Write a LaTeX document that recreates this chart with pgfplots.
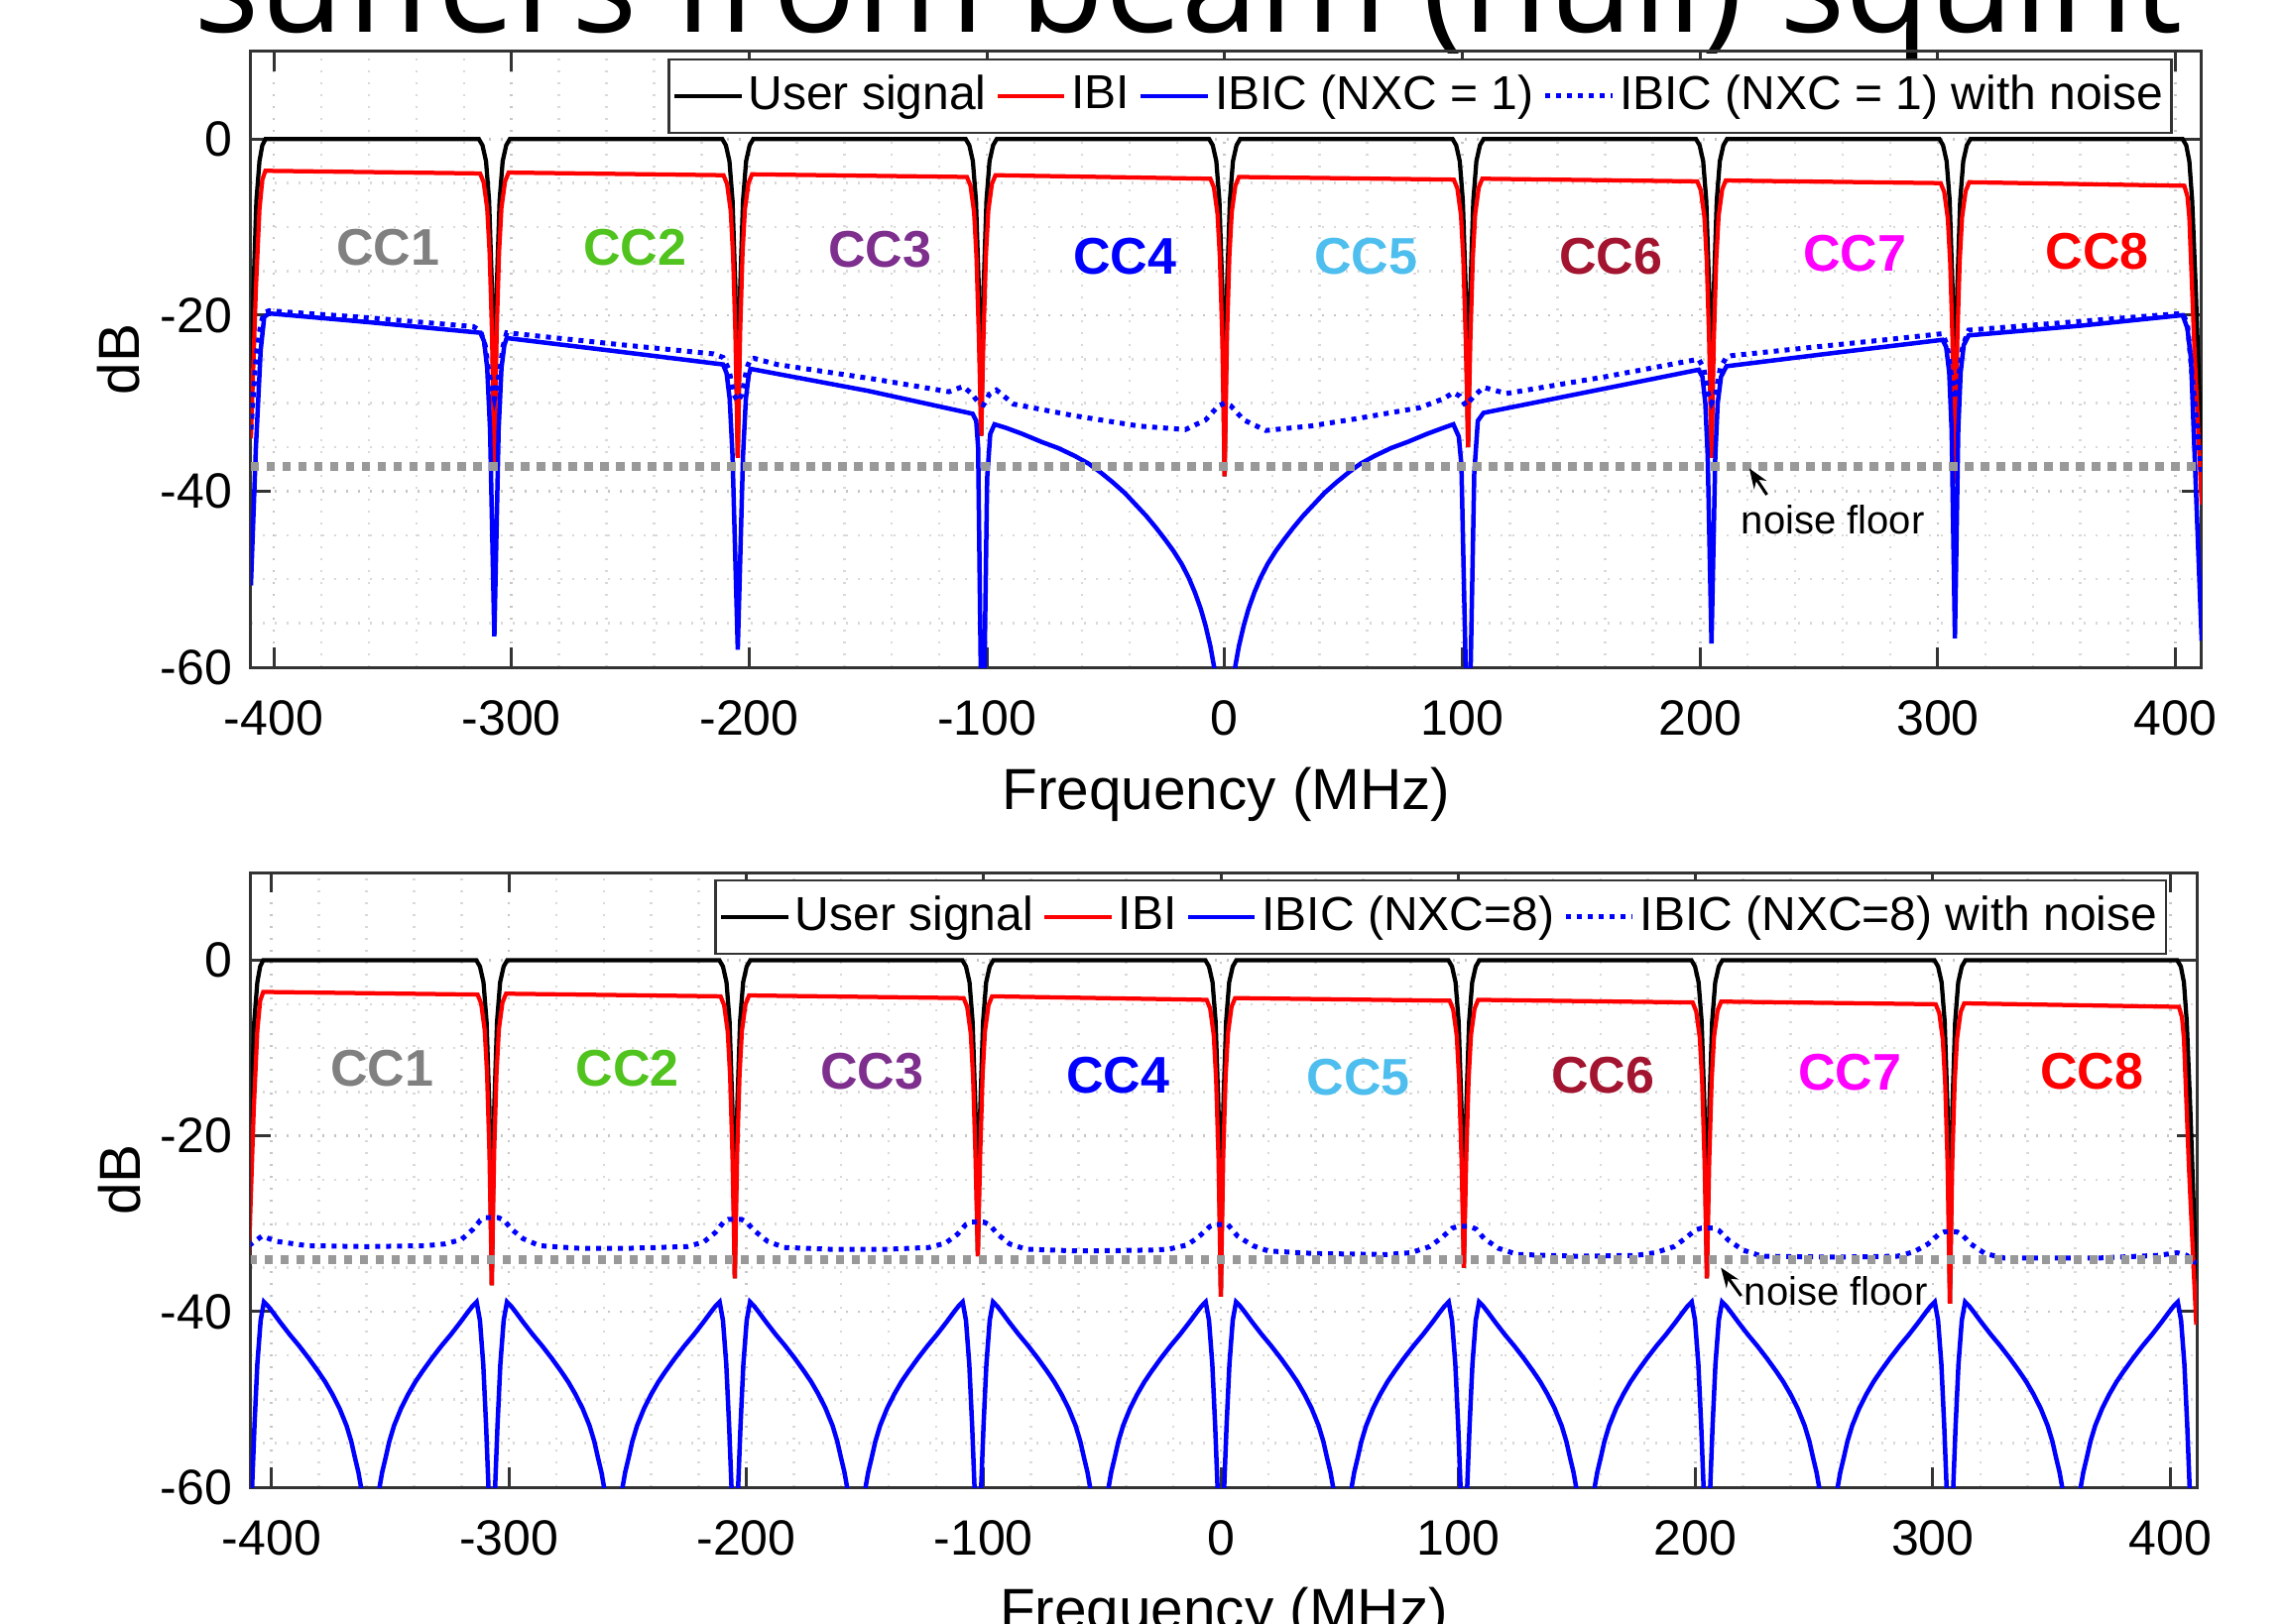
\documentclass[border=0pt]{standalone}
\usepackage{pgfplots}
\pgfplotsset{compat=1.18}
\usepackage{pgfplotstable}
\usepackage{fontspec}
\setmainfont{Liberation Sans}
\newfontfamily\titlefont{Open Sans}
\usetikzlibrary{arrows.meta}

\definecolor{ccgray}{RGB}{128,128,128}
\definecolor{ccgreen}{RGB}{80,195,30}
\definecolor{ccpurple}{RGB}{126,47,142}
\definecolor{ccblue}{RGB}{0,0,255}
\definecolor{cccyan}{RGB}{77,190,238}
\definecolor{ccwine}{RGB}{162,20,47}
\definecolor{ccmag}{RGB}{255,0,255}
\definecolor{ccred}{RGB}{255,0,0}

% user signal, same in both panels
\pgfplotstableread{
f v
-409.6 -30.6
-408.5 -17
-407.3 -7
-406 -2.5
-404.8 -0.7
-403.5 0
-313.7 0
-312.2 -0.7
-310.7 -2.5
-309.4 -7
-308.2 -17
-307.2 -37
-306.2 -17
-305.0 -7
-303.7 -2.5
-302.2 -0.7
-300.7 0
-211.3 0
-209.8 -0.7
-208.3 -2.5
-207.0 -7
-205.8 -17
-204.8 -36.2
-203.8 -17
-202.6 -7
-201.3 -2.5
-199.8 -0.7
-198.3 0
-108.9 0
-107.4 -0.7
-105.9 -2.5
-104.6 -7
-103.4 -17
-102.4 -33.7
-101.4 -17
-100.2 -7
-98.9 -2.5
-97.4 -0.7
-95.9 0
-6.5 0
-5 -0.7
-3.5 -2.5
-2.2 -7
-1 -17
0 -38.3
1 -17
2.2 -7
3.5 -2.5
5 -0.7
6.5 0
95.9 0
97.4 -0.7
98.9 -2.5
100.2 -7
101.4 -17
102.4 -35
103.4 -17
104.6 -7
105.9 -2.5
107.4 -0.7
108.9 0
198.3 0
199.8 -0.7
201.3 -2.5
202.6 -7
203.8 -17
204.8 -36.2
205.8 -17
207.0 -7
208.3 -2.5
209.8 -0.7
211.3 0
300.7 0
302.2 -0.7
303.7 -2.5
305.0 -7
306.2 -17
307.2 -39.1
308.2 -17
309.4 -7
310.7 -2.5
312.2 -0.7
313.7 0
403 0
404.5 -0.7
405.8 -2.5
407 -7
408.5 -17
411 -36.5
}\usersig

% IBI, same in both panels
\pgfplotstableread{
f v
-409.6 -34
-407.5 -17
-406 -8
-404.8 -4.6
-403.5 -3.6
-313.2 -3.9
-311.7 -4.9
-310.2 -7.9
-309.2 -12.9
-308.2 -21.9
-307.2 -37
-306.2 -21.8
-305.2 -12.8
-304.2 -7.8
-302.7 -4.8
-301.2 -3.8
-210.8 -4.1
-209.3 -5.1
-207.8 -8.1
-206.8 -13.1
-205.8 -22.1
-204.8 -36.2
-203.8 -22.0
-202.8 -13.0
-201.8 -8.0
-200.3 -5.0
-198.8 -4.0
-108.4 -4.3
-106.9 -5.3
-105.4 -8.3
-104.4 -13.3
-103.4 -22.3
-102.4 -33.7
-101.4 -22.1
-100.4 -13.1
-99.4 -8.1
-97.9 -5.1
-96.4 -4.1
-6 -4.5
-4.5 -5.5
-3 -8.5
-2 -13.5
-1 -22.5
0 -38.3
1 -22.3
2 -13.3
3 -8.3
4.5 -5.3
6 -4.3
96.4 -4.6
97.9 -5.6
99.4 -8.6
100.4 -13.6
101.4 -22.6
102.4 -35
103.4 -22.5
104.4 -13.5
105.4 -8.5
106.9 -5.5
108.4 -4.5
198.8 -4.8
200.3 -5.8
201.8 -8.8
202.8 -13.8
203.8 -22.8
204.8 -36.2
205.8 -22.7
206.8 -13.7
207.8 -8.7
209.3 -5.7
210.8 -4.7
301.2 -5.0
302.7 -6.0
304.2 -9.0
305.2 -14.0
306.2 -23.0
307.2 -39.1
308.2 -22.9
309.2 -13.9
310.2 -8.9
311.7 -5.9
313.2 -4.9
403.7 -5.3
405 -6.5
405.8 -8.9
407.9 -23.5
411 -41.5
}\ibi

% IBIC, NXC = 1
\pgfplotstableread{
f v
-409.6 -50.7
-407.5 -35
-405.5 -24
-404 -20.2
-402 -19.8
-360 -20.8
-313 -22.0
-311.5 -23
-310.2 -26
-309 -33
-307.2 -56.5
-305.4 -33
-304.2 -26
-303 -23.4
-302 -22.6
-256 -24.1
-211 -25.6
-209.5 -26.6
-208.2 -29.5
-207 -36
-204.8 -58
-202.6 -36
-201.4 -29.5
-200.2 -26.8
-199.4 -26.1
-150 -28.6
-106 -31.2
-104.5 -32
-103.7 -35
-102.6 -60
-102.4 -62
-101 -60
-99.9 -38.5
-98.6 -33.5
-96.8 -32.4
-92 -32.8
-85 -33.5
-77 -34.4
-70 -35.1
-63 -36.0
-57 -36.9
-52 -37.9
-47 -39.0
-42 -40.2
-37.5 -41.5
-33 -42.8
-29 -44.1
-25 -45.5
-21.5 -46.8
-18 -48.3
-15 -49.9
-12.5 -51.5
-10 -53.4
-8 -55.3
-6 -57.6
-4.4 -60
0 -72
4.4 -60
6 -57.6
8 -55.3
10 -53.4
12.5 -51.5
15 -49.9
18 -48.3
21.5 -46.8
25 -45.5
29 -44.1
33 -42.8
37.5 -41.5
42 -40.2
47 -39.0
52 -37.9
57 -36.9
63 -36.0
70 -35.1
77 -34.4
85 -33.5
92 -32.8
96.2 -32.4
98.5 -33.8
99.6 -37
101.4 -60
102.4 -63
103.5 -60
105 -38
106.5 -32
108.9 -31.1
155 -28.6
199.4 -26.2
201 -27
202.2 -30
203.2 -36
204.8 -57.3
206.4 -36
207.4 -30
208.8 -27
211.1 -25.8
256 -24.3
302 -22.8
303.5 -23.6
304.8 -26.5
305.8 -33
307.2 -56.7
308.6 -33
309.6 -26.5
310.9 -23.4
313 -22.3
360 -21.2
403 -20.0
405 -21.5
406.5 -25
411 -57
}\ibicone

% IBIC, NXC = 1, with noise
\pgfplotstableread{
f v
-409.6 -33
-407.5 -25
-405.5 -21
-404 -19.7
-402 -19.5
-360 -20.3
-316 -21.3
-313 -21.8
-311 -23.5
-309.5 -26.5
-307.2 -29.5
-305 -26.5
-303.5 -23.5
-302 -22.0
-256 -23.3
-215 -24.4
-211 -24.8
-208.5 -26.2
-206.5 -29
-204.8 -29.8
-203 -29
-201 -26
-199.5 -25.0
-198 -24.9
-188.3 -25.6
-146.5 -27.3
-116 -28.7
-110 -28.1
-106.5 -28.9
-103 -30.1
-101.5 -30.2
-99 -29
-96 -28.5
-88.8 -30.1
-63.8 -31.4
-36 -32.6
-16.5 -33.0
-8 -31.9
-2.6 -30.3
0 -30.0
2.6 -30.3
8 -31.9
17.3 -33.1
36 -32.6
54.6 -31.8
82.2 -30.5
92 -29.5
96.2 -28.8
99 -29.2
101.5 -30.3
104.5 -29.3
108.9 -28.2
118.5 -28.9
160 -27.0
199.4 -25.0
201.5 -26
203.5 -29
204.8 -30.0
206.5 -29
208.5 -26
211 -24.8
213.3 -24.6
256 -23.4
277.8 -22.8
302 -22.1
304 -23.5
305.5 -26.5
307.2 -29.5
309 -26.5
310.5 -23.5
313 -21.7
360 -20.7
403 -19.8
405 -21
407 -27
411 -38
}\ibiconenoise

% IBIC, NXC = 8, with noise
\pgfplotstableread{
f v
-409.6 -32.5
-404 -31.4
-398 -32.0
-385 -32.5
-360 -32.6
-335 -32.5
-327 -32.3
-320 -31.8
-315 -30.6
-312 -29.6
-310 -29.3
-304.5 -29.3
-302 -29.6
-299 -30.6
-294 -31.7
-287 -32.5
-270 -32.8
-250 -32.8
-225 -32.6
-218 -32.1
-213 -31.0
-209.5 -29.8
-207.5 -29.5
-202 -29.5
-200 -29.8
-196.5 -30.8
-191 -32.0
-184 -32.7
-165 -32.9
-140 -32.9
-123 -32.7
-116 -32.2
-111 -31.2
-107.5 -30.1
-105 -29.8
-100 -29.8
-97.5 -30.1
-94 -31.2
-89 -32.3
-82 -32.9
-60 -33.1
-30 -33.0
-22 -32.9
-14 -32.4
-9 -31.4
-4.6 -30.3
-2.5 -30.1
3 -30.1
7 -31.4
13.5 -32.5
20 -33.1
40 -33.4
70 -33.5
80 -33.3
88 -32.6
93 -31.6
97.5 -30.5
100 -30.3
105 -30.3
107.5 -30.6
111 -31.7
117 -32.8
125 -33.5
150 -33.7
175 -33.6
183 -33.3
191 -32.6
196 -31.6
200 -30.7
202.5 -30.5
207.5 -30.5
210 -30.8
214 -31.9
220 -33.0
228 -33.7
260 -33.8
285 -33.7
292 -33.2
298 -32.3
302.5 -31.2
305 -30.9
310 -30.9
312.5 -31.3
316 -32.3
322 -33.4
330 -33.9
370 -33.9
395 -33.6
403 -33.3
407 -33.6
411 -34.5
}\ibiceightnoise

\pgfplotsset{
  spect/.style={
    scale only axis,
    ymin=-60, ymax=10,
    xtick={-400,-300,-200,-100,0,100,200,300,400},
    xticklabels={-400,-300,-200,-100,0,100,200,300,400},
    ytick={-60,-40,-20,0},
    yticklabels={-60,-40,-20,0},
    minor x tick num=4, minor y tick num=3,
    grid=both,
    major grid style={gray!45, dotted, line width=0.55pt},
    minor grid style={gray!30, dotted, line width=0.5pt},
    tick align=inside, major tick length=4pt, minor tick length=0pt,
    axis line style={black!80, line width=0.6pt},
    tick style={black!80, line width=0.6pt},
    ticklabel style={font=\fontsize{10}{12}\selectfont, inner sep=0pt},
    xticklabel style={yshift=-6.5pt},
    yticklabel style={xshift=-3.6pt},
    label style={font=\fontsize{11.7}{14}\selectfont},
    xlabel={Frequency (MHz)}, ylabel={dB},
    ylabel style={at={(axis description cs:-0.0676,0.5)}, anchor=center},
    legend columns=4, legend cell align=left,
    legend image code/.code={\draw[##1] (0pt,0pt) -- (13.5pt,0pt);},
    legend style={at={(1,1)}, anchor=north east,
      font=\fontsize{9.6}{11}\selectfont, draw=black!80, line width=0.5pt,
      inner xsep=0.7pt, inner ysep=1pt,
      nodes={inner xsep=1pt, inner ysep=2.2pt},
      /tikz/every even column/.append style={column sep=0.8pt}},
  },
  usr/.style={black, line width=0.85pt},
  ibis/.style={red, line width=0.85pt},
  ibic/.style={blue, line width=0.9pt},
  ibicn/.style={blue, line width=1pt, dash pattern=on 1pt off 1.2pt},
  nfloor/.style={black!40, line width=1.7pt, dash pattern=on 1.7pt off 1.5pt},
}
\tikzset{cclab/.style={font=\bfseries\fontsize{10.4}{12}\selectfont}}

\begin{document}
\begin{tikzpicture}
\useasboundingbox (0,0) rectangle (461pt,-327.4pt);
\clip (0,0) rectangle (461pt,-327.4pt);

\node[anchor=base, inner sep=0pt, font=\titlefont\fontsize{27.8}{30}\selectfont]
  at (239.6pt,-6.4pt) {suffers from beam (null) squint};

% upper panel
\begin{axis}[spect, at={(50.6pt,-134.6pt)}, anchor=south west,
  width=393.4pt, height=124.3pt, xmin=-409.6, xmax=411,
  xlabel style={at={(axis description cs:0.5,-0.2309)}, anchor=base},
  legend style={xshift=-5.8pt, yshift=-1.4pt}]
\addplot[usr] table {\usersig};
\addlegendentry{User signal}
\addplot[ibis] table {\ibi};
\addlegendentry{IBI}
\addplot[ibic] table {\ibicone};
\addlegendentry{IBIC (NXC = 1)}
\addplot[ibicn] table {\ibiconenoise};
\addlegendentry{IBIC (NXC = 1) with noise}
\addplot[nfloor, forget plot] coordinates {(-409.6,-37.2) (411,-37.2)};
\node[cclab, text=ccgray] at (axis cs:-352,-12.3) {CC1};
\node[cclab, text=ccgreen] at (axis cs:-248,-12.3) {CC2};
\node[cclab, text=ccpurple] at (axis cs:-145,-12.5) {CC3};
\node[cclab, text=ccblue] at (axis cs:-42,-13.3) {CC4};
\node[cclab, text=cccyan] at (axis cs:59.5,-13.3) {CC5};
\node[cclab, text=ccwine] at (axis cs:162.5,-13.3) {CC6};
\node[cclab, text=ccmag] at (axis cs:265,-13) {CC7};
\node[cclab, text=ccred] at (axis cs:367,-12.8) {CC8};
\node[anchor=base west, inner sep=0pt, font=\fontsize{8}{10}\selectfont]
  at (axis cs:217,-44.8) {noise floor};
\draw[-{Stealth[length=4pt,width=3pt]}, line width=0.6pt]
  (axis cs:228.1,-40.4) -- (axis cs:220.7,-37.4);
\end{axis}

% lower panel
\begin{axis}[spect, at={(50.6pt,-300pt)}, anchor=south west,
  width=392.4pt, height=124pt, xmin=-408.7, xmax=411.2,
  xlabel style={at={(axis description cs:0.5,-0.2315)}, anchor=base},
  legend style={xshift=-6pt, yshift=-1.3pt}]
\addplot[usr] table {\usersig};
\addlegendentry{User signal}
\addplot[ibis] table {\ibi};
\addlegendentry{IBI}
% IBIC, NXC = 8: one arch pair per carrier
\addplot[ibic] coordinates {
(-409.6,-68) (-408.2,-60) (-407.2,-53) (-406.0,-46) (-404.6,-41) (-403.2,-38.9) (-401.4,-39.4) (-399.4,-40.1) (-396.4,-41.2) (-392.4,-42.6) (-388.4,-43.9) (-384.4,-45.3) (-380.4,-46.8) (-377.4,-48.0) (-374.4,-49.4) (-371.4,-51.0) (-368.4,-53.0) (-366.4,-54.8) (-364.9,-56.6) (-363.4,-58.3) (-362.3,-60) (-358.4,-72) (-354.5,-60) (-353.4,-58.3) (-351.9,-56.6) (-350.4,-54.8) (-348.4,-53.0) (-345.4,-51.0) (-342.4,-49.4) (-339.4,-48.0) (-336.4,-46.8) (-332.4,-45.3) (-328.4,-43.9) (-324.4,-42.6) (-320.4,-41.2) (-317.4,-40.1) (-315.4,-39.4) (-313.6,-38.9) (-312.2,-41) (-310.8,-46) (-309.6,-53) (-308.6,-60) (-307.2,-68)
(-305.8,-60) (-304.8,-53) (-303.6,-46) (-302.2,-41) (-300.8,-38.9) (-299,-39.4) (-297,-40.1) (-294,-41.2) (-290,-42.6) (-286,-43.9) (-282,-45.3) (-278,-46.8) (-275,-48.0) (-272,-49.4) (-269,-51.0) (-266,-53.0) (-264,-54.8) (-262.5,-56.6) (-261,-58.3) (-259.9,-60) (-256,-72) (-252.1,-60) (-251,-58.3) (-249.5,-56.6) (-248,-54.8) (-246,-53.0) (-243,-51.0) (-240,-49.4) (-237,-48.0) (-234,-46.8) (-230,-45.3) (-226,-43.9) (-222,-42.6) (-218,-41.2) (-215,-40.1) (-213,-39.4) (-211.2,-38.9) (-209.8,-41) (-208.4,-46) (-207.2,-53) (-206.2,-60) (-204.8,-68)
(-203.4,-60) (-202.4,-53) (-201.2,-46) (-199.8,-41) (-198.4,-38.9) (-196.6,-39.4) (-194.6,-40.1) (-191.6,-41.2) (-187.6,-42.6) (-183.6,-43.9) (-179.6,-45.3) (-175.6,-46.8) (-172.6,-48.0) (-169.6,-49.4) (-166.6,-51.0) (-163.6,-53.0) (-161.6,-54.8) (-160.1,-56.6) (-158.6,-58.3) (-157.5,-60) (-153.6,-72) (-149.7,-60) (-148.6,-58.3) (-147.1,-56.6) (-145.6,-54.8) (-143.6,-53.0) (-140.6,-51.0) (-137.6,-49.4) (-134.6,-48.0) (-131.6,-46.8) (-127.6,-45.3) (-123.6,-43.9) (-119.6,-42.6) (-115.6,-41.2) (-112.6,-40.1) (-110.6,-39.4) (-108.8,-38.9) (-107.4,-41) (-106.0,-46) (-104.8,-53) (-103.8,-60) (-102.4,-68)
(-101.0,-60) (-100.0,-53) (-98.8,-46) (-97.4,-41) (-96.0,-38.9) (-94.2,-39.4) (-92.2,-40.1) (-89.2,-41.2) (-85.2,-42.6) (-81.2,-43.9) (-77.2,-45.3) (-73.2,-46.8) (-70.2,-48.0) (-67.2,-49.4) (-64.2,-51.0) (-61.2,-53.0) (-59.2,-54.8) (-57.7,-56.6) (-56.2,-58.3) (-55.1,-60) (-51.2,-72) (-47.3,-60) (-46.2,-58.3) (-44.7,-56.6) (-43.2,-54.8) (-41.2,-53.0) (-38.2,-51.0) (-35.2,-49.4) (-32.2,-48.0) (-29.2,-46.8) (-25.2,-45.3) (-21.2,-43.9) (-17.2,-42.6) (-13.2,-41.2) (-10.2,-40.1) (-8.2,-39.4) (-6.4,-38.9) (-5.0,-41) (-3.6,-46) (-2.4,-53) (-1.4,-60) (0,-68)
(1.4,-60) (2.4,-53) (3.6,-46) (5.0,-41) (6.4,-38.9) (8.2,-39.4) (10.2,-40.1) (13.2,-41.2) (17.2,-42.6) (21.2,-43.9) (25.2,-45.3) (29.2,-46.8) (32.2,-48.0) (35.2,-49.4) (38.2,-51.0) (41.2,-53.0) (43.2,-54.8) (44.7,-56.6) (46.2,-58.3) (47.3,-60) (51.2,-72) (55.1,-60) (56.2,-58.3) (57.7,-56.6) (59.2,-54.8) (61.2,-53.0) (64.2,-51.0) (67.2,-49.4) (70.2,-48.0) (73.2,-46.8) (77.2,-45.3) (81.2,-43.9) (85.2,-42.6) (89.2,-41.2) (92.2,-40.1) (94.2,-39.4) (96.0,-38.9) (97.4,-41) (98.8,-46) (100.0,-53) (101.0,-60) (102.4,-68)
(103.8,-60) (104.8,-53) (106.0,-46) (107.4,-41) (108.8,-38.9) (110.6,-39.4) (112.6,-40.1) (115.6,-41.2) (119.6,-42.6) (123.6,-43.9) (127.6,-45.3) (131.6,-46.8) (134.6,-48.0) (137.6,-49.4) (140.6,-51.0) (143.6,-53.0) (145.6,-54.8) (147.1,-56.6) (148.6,-58.3) (149.7,-60) (153.6,-72) (157.5,-60) (158.6,-58.3) (160.1,-56.6) (161.6,-54.8) (163.6,-53.0) (166.6,-51.0) (169.6,-49.4) (172.6,-48.0) (175.6,-46.8) (179.6,-45.3) (183.6,-43.9) (187.6,-42.6) (191.6,-41.2) (194.6,-40.1) (196.6,-39.4) (198.4,-38.9) (199.8,-41) (201.2,-46) (202.4,-53) (203.4,-60) (204.8,-68)
(206.2,-60) (207.2,-53) (208.4,-46) (209.8,-41) (211.2,-38.9) (213,-39.4) (215,-40.1) (218,-41.2) (222,-42.6) (226,-43.9) (230,-45.3) (234,-46.8) (237,-48.0) (240,-49.4) (243,-51.0) (246,-53.0) (248,-54.8) (249.5,-56.6) (251,-58.3) (252.1,-60) (256,-72) (259.9,-60) (261,-58.3) (262.5,-56.6) (264,-54.8) (266,-53.0) (269,-51.0) (272,-49.4) (275,-48.0) (278,-46.8) (282,-45.3) (286,-43.9) (290,-42.6) (294,-41.2) (297,-40.1) (299,-39.4) (300.8,-38.9) (302.2,-41) (303.6,-46) (304.8,-53) (305.8,-60) (307.2,-68)
(308.6,-60) (309.6,-53) (310.8,-46) (312.2,-41) (313.6,-38.9) (315.4,-39.4) (317.4,-40.1) (320.4,-41.2) (324.4,-42.6) (328.4,-43.9) (332.4,-45.3) (336.4,-46.8) (339.4,-48.0) (342.4,-49.4) (345.4,-51.0) (348.4,-53.0) (350.4,-54.8) (351.9,-56.6) (353.4,-58.3) (354.5,-60) (358.4,-72) (362.3,-60) (363.4,-58.3) (364.9,-56.6) (366.4,-54.8) (368.4,-53.0) (371.4,-51.0) (374.4,-49.4) (377.4,-48.0) (380.4,-46.8) (384.4,-45.3) (388.4,-43.9) (392.4,-42.6) (396.4,-41.2) (399.4,-40.1) (401.4,-39.4) (403.2,-38.9) (404.6,-41) (406.0,-46) (407.2,-53) (408.2,-60) (409.6,-68) (411,-75)
};
\addlegendentry{IBIC (NXC=8)}
\addplot[ibicn] table {\ibiceightnoise};
\addlegendentry{IBIC (NXC=8) with noise}
\addplot[nfloor, forget plot] coordinates {(-409.6,-34.1) (411.2,-34.1)};
\node[cclab, text=ccgray] at (axis cs:-353.5,-12.3) {CC1};
\node[cclab, text=ccgreen] at (axis cs:-250,-12.3) {CC2};
\node[cclab, text=ccpurple] at (axis cs:-147,-12.6) {CC3};
\node[cclab, text=ccblue] at (axis cs:-43.3,-13.1) {CC4};
\node[cclab, text=cccyan] at (axis cs:58,-13.3) {CC5};
\node[cclab, text=ccwine] at (axis cs:161,-13.1) {CC6};
\node[cclab, text=ccmag] at (axis cs:265,-12.8) {CC7};
\node[cclab, text=ccred] at (axis cs:367,-12.7) {CC8};
\node[anchor=base west, inner sep=0pt, font=\fontsize{8}{10}\selectfont]
  at (axis cs:220.2,-39.3) {noise floor};
\draw[-{Stealth[length=4pt,width=3pt]}, line width=0.6pt]
  (axis cs:219.2,-38.2) -- (axis cs:210.7,-35.0);
\end{axis}
\end{tikzpicture}
\end{document}
